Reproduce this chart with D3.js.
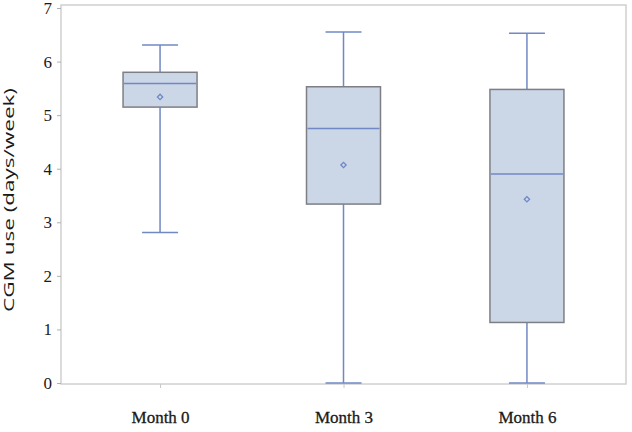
<!DOCTYPE html>
<meta charset="utf-8">
<style>
body { margin: 0; background: #fff; }
</style>
<svg width="632" height="432"></svg>
<script src="https://d3js.org/d3.v7.min.js"></script>
<script>

// values (days/week)
var months = ["Month 0", "Month 3", "Month 6"];
var whiskerLow  = [2.81, 0.00, 0.00];
var q1          = [5.15, 3.34, 1.13];
var median      = [5.59, 4.75, 3.90];
var q3          = [5.80, 5.53, 5.48];
var whiskerHigh = [6.31, 6.55, 6.53];
var mean        = [5.34, 4.07, 3.43];
var yTicks = [0, 1, 2, 3, 4, 5, 6, 7];

var data = months.map(function(m, i) {
  return {month: m, lo: whiskerLow[i], q1: q1[i], med: median[i], q3: q3[i], hi: whiskerHigh[i], mean: mean[i]};
});

var svg = d3.select("svg"),
    plotL = 61, plotR = 626, plotT = 5, plotB = 384,
    serif = "'Liberation Serif', 'DejaVu Serif', serif";

var x = d3.scalePoint()
    .domain(months)
    .range([plotL, plotR])
    .padding(0.54);

var y = d3.scaleLinear()
    .domain([0, 7])
    .range([383, 8]);

var boxW = 74, capW = 36,
    blue = "#7088c4", boxStroke = "#7d7f85", fill = "#cbd6e7";

// frame
svg.append("rect")
    .attr("x", plotL).attr("y", plotT)
    .attr("width", plotR - plotL).attr("height", plotB - plotT)
    .attr("fill", "none")
    .attr("stroke", "#d0d0d0")
    .attr("stroke-width", 1.5);

var yAxis = svg.append("g")
    .attr("transform", "translate(" + plotL + ",0)")
    .call(d3.axisLeft(y).tickValues(yTicks).tickFormat(d3.format("d")).tickSize(4).tickPadding(5));
yAxis.select(".domain").remove();
yAxis.selectAll(".tick line").attr("stroke", "#b0b0b0");
yAxis.selectAll(".tick text")
    .style("font-family", serif)
    .style("font-size", "17px")
    .attr("fill", "#1a1a1a");

var xAxis = svg.append("g")
    .attr("transform", "translate(0," + plotB + ")")
    .call(d3.axisBottom(x).tickSize(4).tickPadding(23));
xAxis.select(".domain").remove();
xAxis.selectAll(".tick line").attr("stroke", "#c8c8c8");
xAxis.selectAll(".tick text")
    .style("font-family", serif)
    .style("font-size", "17px")
    .attr("fill", "#1a1a1a")
    .attr("stroke", "#1a1a1a")
    .attr("stroke-width", 0.3);

svg.append("text")
    .attr("transform", "translate(14," + 200 + ") rotate(-90)")
    .attr("text-anchor", "middle")
    .attr("textLength", 224)
    .attr("lengthAdjust", "spacingAndGlyphs")
    .style("font-family", "'Open Sans', 'Noto Sans', sans-serif")
    .style("font-size", "14px")
    .attr("fill", "#1a1a1a")
    .text("CGM use (days/week)");

var g = svg.selectAll(".box")
    .data(data)
    .enter().append("g")
      .attr("class", "box");

// whiskers
g.append("line")
    .attr("x1", function(d) { return x(d.month); })
    .attr("x2", function(d) { return x(d.month); })
    .attr("y1", function(d) { return y(d.hi); })
    .attr("y2", function(d) { return y(d.lo); })
    .attr("stroke", blue).attr("stroke-width", 1.5);

g.selectAll(".cap")
    .data(function(d) { return [{m: d.month, v: d.lo}, {m: d.month, v: d.hi}]; })
    .enter().append("line")
      .attr("x1", function(d) { return x(d.m) - capW / 2; })
      .attr("x2", function(d) { return x(d.m) + capW / 2; })
      .attr("y1", function(d) { return y(d.v); })
      .attr("y2", function(d) { return y(d.v); })
      .attr("stroke", blue).attr("stroke-width", 1.5);

g.append("rect")
    .attr("x", function(d) { return x(d.month) - boxW / 2; })
    .attr("y", function(d) { return y(d.q3); })
    .attr("width", boxW)
    .attr("height", function(d) { return y(d.q1) - y(d.q3); })
    .attr("fill", fill)
    .attr("stroke", boxStroke)
    .attr("stroke-width", 1.5);

g.append("line")
    .attr("x1", function(d) { return x(d.month) - boxW / 2 + 1; })
    .attr("x2", function(d) { return x(d.month) + boxW / 2 - 1; })
    .attr("y1", function(d) { return y(d.med); })
    .attr("y2", function(d) { return y(d.med); })
    .attr("stroke", blue).attr("stroke-width", 1.5);

g.append("path")
    .attr("transform", function(d) { return "translate(" + x(d.month) + "," + y(d.mean) + ") rotate(45)"; })
    .attr("d", d3.symbol(d3.symbolSquare, 14))
    .attr("fill", "none")
    .attr("stroke", blue)
    .attr("stroke-width", 1.3);

</script>
